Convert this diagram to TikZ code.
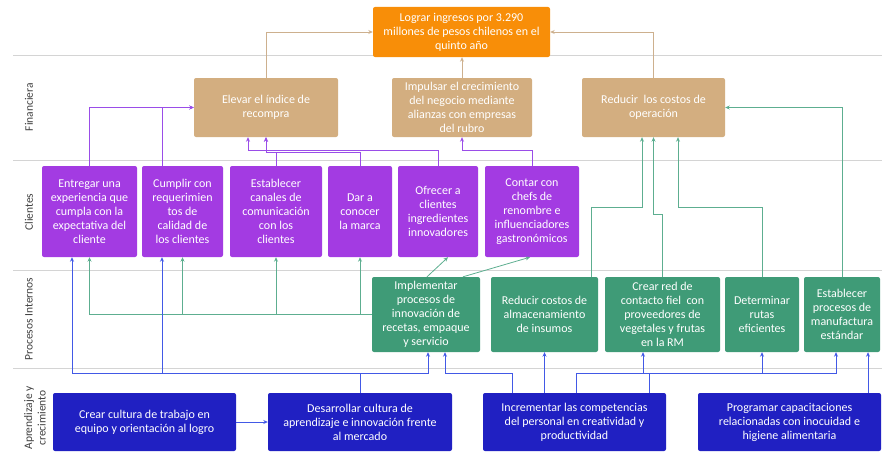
\documentclass[tikz,border=0pt]{standalone}
\usepackage{fontspec}
\setmainfont{Carlito}
\usetikzlibrary{arrows.meta}
\definecolor{cgoal}{HTML}{F88E08}
\definecolor{cfin}{HTML}{D3AE80}
\definecolor{ccli}{HTML}{A33BE2}
\definecolor{cpro}{HTML}{3F9B77}
\definecolor{capr}{HTML}{2020C2}
\definecolor{ltan}{HTML}{CDB08E}
\definecolor{lpur}{HTML}{9A4DE8}
\definecolor{lgrn}{HTML}{5DAE90}
\definecolor{lblu}{HTML}{4259E6}
\definecolor{lane}{HTML}{D4D4D4}
\definecolor{lanetxt}{HTML}{404040}
\tikzset{
  boxst/.style={rectangle, rounded corners=2pt, text=white, align=center, inner sep=0pt,
    font=\fontsize{12}{14}\selectfont},
  goalst/.style={boxst, fill=cgoal},
  finst/.style={boxst, fill=cfin},
  clist/.style={boxst, fill=ccli},
  prost/.style={boxst, fill=cpro},
  aprst/.style={boxst, fill=capr},
  lanelabel/.style={rotate=90, text=lanetxt, align=center, font=\fontsize{11.5}{13.5}\selectfont},
  conn/.style={line width=0.8pt, -{Stealth[length=4.5pt,width=4pt]}},
  tanl/.style={conn, draw=ltan},
  purl/.style={conn, draw=lpur},
  grnl/.style={conn, draw=lgrn},
  blul/.style={conn, draw=lblu},
  plainblu/.style={line width=0.8pt, draw=lblu},
  laneline/.style={draw=lane, line width=0.9pt}
}
\begin{document}
\begin{tikzpicture}[x=1pt,y=-1pt]
\useasboundingbox (0,0) rectangle (882,452);
% lane lines
\draw[laneline] (13,55) -- (882,55);
\draw[laneline] (13,160) -- (882,160);
\draw[laneline] (13,270) -- (882,270);
\draw[laneline] (13,368) -- (882,368);
% lane labels
\node[lanelabel] (lfin) at (29,107) {Financiera};
\node[lanelabel] (lcli) at (29,212) {Clientes};
\node[lanelabel] (lpro) at (29,319) {Procesos Internos};
\node[lanelabel] (lapr) at (35,418) {Aprendizaje y\\crecimiento};
% goal
\node[goalst, minimum width=177, minimum height=50] (goal) at (461.5,32) {Lograr ingresos por 3.290\\millones de pesos chilenos en el\\quinto año};
% financial
\node[finst, minimum width=144, minimum height=59] (elevar) at (266,107.5) {Elevar el índice de\\recompra};
\node[finst, minimum width=140, minimum height=59] (impulsar) at (462,107.5) {Impulsar el crecimiento\\del negocio mediante\\alianzas con empresas\\del rubro};
\node[finst, minimum width=143, minimum height=59] (reducirop) at (653.5,107.5) {Reducir\ \ los costos de\\operación};
% clients
\node[clist, minimum width=95, minimum height=91] (entregar) at (89.5,211.5) {Entregar una\\experiencia que\\cumpla con la\\expectativa del\\cliente};
\node[clist, minimum width=81, minimum height=91] (cumplir) at (182.5,211.5) {Cumplir con\\requerimien\\tos de\\calidad de\\los clientes};
\node[clist, minimum width=92, minimum height=91] (establecer) at (276,211.5) {Establecer\\canales de\\comunicación\\con los\\clientes};
\node[clist, minimum width=64, minimum height=91] (dar) at (360,211.5) {Dar a\\conocer\\la marca};
\node[clist, minimum width=80, minimum height=91] (ofrecer) at (438,211.5) {Ofrecer a\\clientes\\ingredientes\\innovadores};
\node[clist, minimum width=94, minimum height=91] (contar) at (532,211.5) {Contar con\\chefs de\\renombre e\\influenciadores\\gastronómicos};
% internal processes
\node[prost, minimum width=108, minimum height=75] (implementar) at (426,314.5) {Implementar\\procesos de\\innovación de\\recetas, empaque\\y servicio};
\node[prost, minimum width=107, minimum height=75] (reduciralm) at (544.5,314.5) {Reducir costos de\\almacenamiento\\de insumos};
\node[prost, minimum width=115, minimum height=75] (crearred) at (662.5,314.5) {Crear red de\\contacto fiel\ \ con\\proveedores de\\vegetales y frutas\\en la RM};
\node[prost, minimum width=74, minimum height=75] (determinar) at (762,314.5) {Determinar\\rutas\\eficientes};
\node[prost, minimum width=76, minimum height=75] (estproc) at (842,314.5) {Establecer\\procesos de\\manufactura\\estándar};
% learning
\node[aprst, minimum width=183, minimum height=58] (crearcult) at (144.5,422) {Crear cultura de trabajo en\\equipo y orientación al logro};
\node[aprst, minimum width=184, minimum height=58] (desarrollar) at (360,422) {Desarrollar cultura de\\aprendizaje e innovación frente\\al mercado};
\node[aprst, minimum width=183, minimum height=58] (incrementar) at (574.5,422) {Incrementar las competencias\\del personal en creatividad y\\productividad};
\node[aprst, minimum width=183, minimum height=58] (programar) at (789.5,422) {Programar capacitaciones\\relacionadas con inocuidad e\\higiene alimentaria};
% tan connectors to goal
\draw[tanl] (elevar.north) |- (goal.west);
\draw[tanl] (reducirop.north) |- (goal.east);
\draw[tanl] (impulsar.north) -- (impulsar.north |- goal.south);
% purple connectors
\draw[purl] (entregar.north) |- (elevar.west);
\draw[purl] (cumplir.north -| 162,0) |- (elevar.west);
\draw[purl] (establecer.north) -- (establecer.north |- 0,152) -| (elevar.south);
\draw[purl] (dar.north) -- (dar.north |- 0,152) -| (elevar.south);
\draw[purl] (ofrecer.north) -- (ofrecer.north |- 0,150) -| (elevar.south -| 248,0);
\draw[purl] (contar.north) -- (contar.north |- 0,150) -| (impulsar.south);
% green connectors to clients
\draw[grnl] (implementar.west) -| (entregar.south);
\draw[grnl] (implementar.west) -| (cumplir.south);
\draw[grnl] (implementar.west) -| (establecer.south);
\draw[grnl] (implementar.west) -| (dar.south);
\draw[grnl] (implementar.north -| 427,0) -- (ofrecer.south -| 448,0);
\draw[grnl] (implementar.north -| 463,0) -- (contar.south -| 530,0);
% green connectors to financial
\draw[grnl] (reduciralm.north -| 591,0) -- (591,207) -| (reducirop.south -| 642,0);
\draw[grnl] (crearred.north) -- (crearred.north |- 0,214) -| (reducirop.south);
\draw[grnl] (determinar.north) -- (determinar.north |- 0,207) -| (reducirop.south -| 678,0);
\draw[grnl] (estproc.north) |- (reducirop.east);
% blue connectors
\draw[blul] (crearcult.east) -- (desarrollar.west);
\draw[blul] (desarrollar.north) -- (desarrollar.north |- 0,373) -| (entregar.south -| 72,0);
\draw[blul] (desarrollar.north) -- (desarrollar.north |- 0,373) -| (cumplir.south -| 162,0);
\draw[blul] (desarrollar.north) -- (desarrollar.north |- 0,373) -| (implementar.south -| 428,0);
\draw[blul] (incrementar.north -| 512,0) -- (512,373) -| (implementar.south -| 445,0);
\draw[blul] (reduciralm.south |- incrementar.north) -- (reduciralm.south);
\draw[blul] (incrementar.north -| 576,0) -- (576,373) -| (crearred.south -| 643,0);
\draw[blul] (incrementar.north -| 576,0) -- (576,373) -| (determinar.south);
\draw[blul] (incrementar.north -| 576,0) -- (576,373) -| (estproc.south -| 836,0);
\draw[plainblu] (incrementar.north -| 649,0) -- (649,373);
\draw[blul] (programar.north -| 868,0) -- (estproc.south -| 868,0);
\end{tikzpicture}
\end{document}
